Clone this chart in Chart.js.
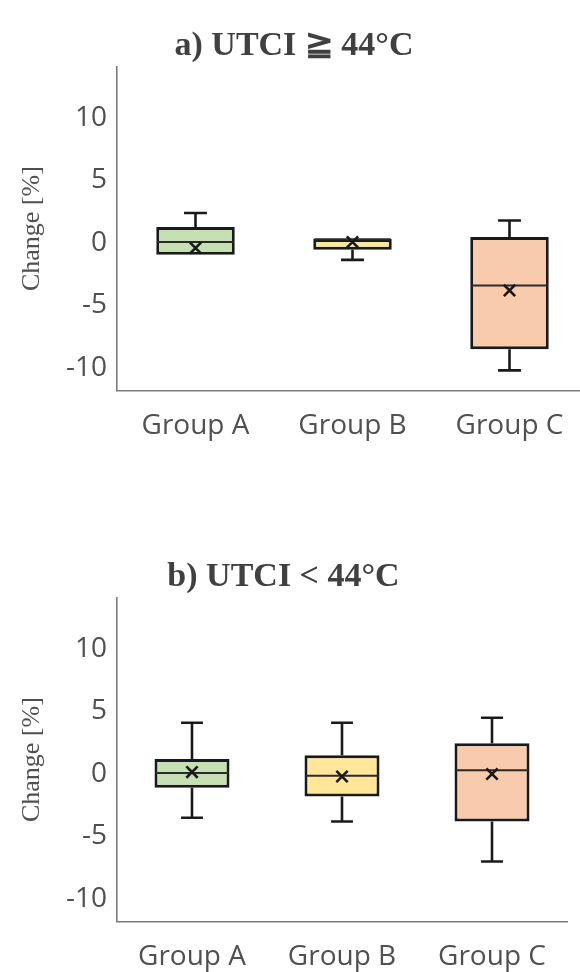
<!DOCTYPE html>
<html>
<head>
<meta charset="utf-8">
<script src="https://cdn.jsdelivr.net/npm/chart.js@4.4.1/dist/chart.umd.min.js"></script>
<style>
html, body { margin: 0; padding: 0; background: #fff; overflow: hidden; width: 580px; height: 972px; }
.wrap { position: absolute; left: 0; }
</style>
</head>
<body>
<div class="wrap" style="top:0;width:600px;height:470px"><canvas id="chartA"></canvas></div>
<div class="wrap" style="top:531px;width:580px;height:470px"><canvas id="chartB"></canvas></div>
<script>
// categories / ticks
var groups = ['Group A', 'Group B', 'Group C'];
var boxColors = ['#c5e0b3', '#ffe699', '#f8cbad'];
var yTicks = [-10, -5, 0, 5, 10];

// a) UTCI >= 44
var aMin = [-0.95, -1.35, -10.2];
var aQ1 = [-0.95, -0.55, -8.5];
var aMedian = [0.08, 0.3, -3.4];
var aQ3 = [1.27, 0.32, 0.48];
var aMax = [2.4, 0.32, 1.8];
var aMean = [-0.4, 0.08, -3.8];

// b) UTCI < 44
var bMin = [-3.5, -3.8, -7.0];
var bQ1 = [-1.1, -1.8, -3.8];
var bMedian = [0.08, -0.15, 0.3];
var bQ3 = [1.2, 1.5, 2.45];
var bMax = [4.1, 4.1, 4.5];
var bMean = [0.15, -0.2, 0.0];

var ink = '#1a1a1a';
var textGrey = '#505050';

// whiskers go under the boxes, medians on top of them
var boxPlugin = {
   id: 'boxparts',
   beforeDatasetsDraw(chart) {
      var s = chart.options.plugins.boxparts;
      var x = chart.scales.x, y = chart.scales.y, ctx = chart.ctx;
      var cap = x.width / groups.length * 0.073;
      ctx.save();
      ctx.strokeStyle = ink;
      ctx.lineWidth = 2.6;
      groups.forEach((g, i) => {
         var cx = x.getPixelForValue(i);
         [[s.q3[i], s.max[i]], [s.q1[i], s.min[i]]].forEach(p => {
            if (p[0] === p[1]) return;
            var y0 = y.getPixelForValue(p[0]), y1 = y.getPixelForValue(p[1]);
            ctx.beginPath();
            ctx.moveTo(cx, y0);
            ctx.lineTo(cx, y1);
            ctx.moveTo(cx - cap, y1);
            ctx.lineTo(cx + cap, y1);
            ctx.stroke();
         });
      });
      ctx.restore();
   },
   afterDatasetDraw(chart, args) {
      if (args.index !== 0) return;
      var s = chart.options.plugins.boxparts;
      var y = chart.scales.y, ctx = chart.ctx;
      var meta = chart.getDatasetMeta(0);
      ctx.save();
      ctx.strokeStyle = '#2a2a2a';
      ctx.lineWidth = 2;
      groups.forEach((g, i) => {
         var bar = meta.data[i];
         var ym = y.getPixelForValue(s.median[i]);
         ctx.beginPath();
         ctx.moveTo(bar.x - bar.width / 2 + 1, ym);
         ctx.lineTo(bar.x + bar.width / 2 - 1, ym);
         ctx.stroke();
      });
      ctx.restore();
   }
};

function makeChart(id, title, mn, q1, med, q3, mx, mean, padRight) {
   return new Chart(document.getElementById(id), {
      type: 'bar',
      data: {
         labels: groups,
         datasets: [{
            data: groups.map((g, i) => [q1[i], q3[i]]),
            backgroundColor: boxColors,
            borderColor: ink,
            borderWidth: 3,
            borderSkipped: false,
            barPercentage: 0.5,
            categoryPercentage: 1,
            order: 2
         }, {
            type: 'line',
            data: mean,
            showLine: false,
            pointStyle: 'crossRot',
            pointRadius: 8,
            pointBorderWidth: 2.6,
            borderColor: ink,
            order: 1
         }]
      },
      options: {
         responsive: true,
         maintainAspectRatio: false,
         animation: false,
         layout: { padding: { right: padRight, bottom: 8 } },
         plugins: {
            legend: { display: false },
            tooltip: { enabled: false },
            title: {
               display: true,
               text: title,
               color: '#404040',
               font: { family: 'Liberation Serif', size: 34, weight: 'bold' },
               padding: { top: 26, bottom: 0 }
            },
            boxparts: { min: mn, q1: q1, median: med, q3: q3, max: mx }
         },
         scales: {
            x: {
               grid: { display: false, drawTicks: false },
               border: { display: true, color: '#7a7a7a', width: 1.6 },
               ticks: {
                  color: textGrey,
                  font: { family: 'Open Sans', size: 28 },
                  padding: 19,
                  maxRotation: 0
               }
            },
            y: {
               min: -11.8,
               max: 14.1,
               afterBuildTicks: s => { s.ticks = yTicks.map(v => ({ value: v })); },
               afterFit: s => { s.width = 117; },
               grid: { display: false, drawTicks: false },
               border: { display: true, color: '#7a7a7a', width: 1.6 },
               ticks: {
                  color: textGrey,
                  font: { family: 'Open Sans', size: 28 },
                  padding: 10
               },
               title: {
                  display: true,
                  text: 'Change [%]',
                  color: textGrey,
                  font: { family: 'Liberation Serif', size: 26 },
                  padding: { top: 17, bottom: 0 }
               }
            }
         }
      },
      plugins: [boxPlugin]
   });
}

makeChart('chartA', 'a) UTCI \u2267 44\u00b0C', aMin, aQ1, aMedian, aQ3, aMax, aMean, 12);
makeChart('chartB', 'b) UTCI < 44\u00b0C', bMin, bQ1, bMedian, bQ3, bMax, bMean, 13);
</script>
</body>
</html>
